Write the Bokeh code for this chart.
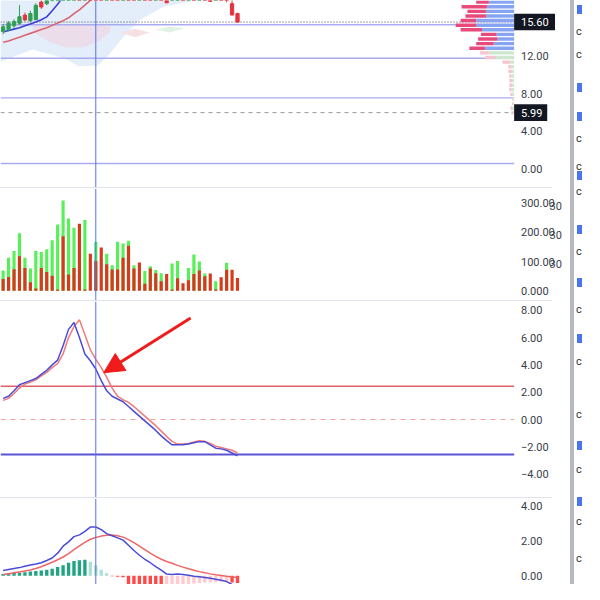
from bokeh.plotting import figure
from bokeh.models import Range1d, Span, Arrow, NormalHead, Div, ColumnDataSource
from bokeh.layouts import column, row
from bokeh.embed import file_html
from bokeh.resources import INLINE
from bokeh.core.properties import value

# ---------------- data ----------------
bars = list(range(44))

c_open = [14.6, 14.8, 15.2, 15.48, 16.34, 15.75, 15.85, 17.72, 17.55, 18.3, 19.2, 20.5, 22.4, 24.6, 26.0,
          25.1, 26.4, 24.8, 23.5, 22.0, 22.8, 21.6, 21.0, 21.8, 20.9, 20.3, 20.8, 19.9, 19.4, 19.9,
          18.8, 18.1, 18.6, 19.0, 18.7, 19.3, 19.0, 19.4, 18.9, 18.1, 18.5, 18.6, 17.55, 16.5]
c_close = [15.1, 15.48, 15.65, 16.17, 15.83, 16.5, 17.38, 17.2, 18.3, 19.2, 20.5, 22.4, 24.6, 26.0, 25.1,
           26.4, 24.8, 23.5, 22.0, 22.8, 21.6, 21.0, 21.8, 20.9, 20.3, 20.8, 19.9, 19.4, 19.9, 19.0,
           17.65, 18.6, 19.0, 18.7, 19.3, 19.0, 19.4, 18.9, 17.8, 18.5, 18.3, 18.2, 16.35, 15.6]
c_high = [15.4, 15.7, 15.9, 17.4, 16.6, 16.8, 17.6, 18.0, 18.6, 19.5, 20.8, 22.9, 25.0, 26.5, 26.4,
          26.9, 26.7, 25.0, 23.8, 23.1, 23.0, 21.9, 22.1, 22.0, 21.1, 21.0, 21.0, 20.1, 20.1, 20.1,
          19.1, 18.8, 19.2, 19.2, 19.5, 19.5, 19.6, 19.6, 19.0, 18.7, 18.6, 18.8, 18.1, 16.6]
c_low = [14.3, 14.6, 14.9, 15.3, 15.7, 15.6, 15.8, 17.0, 17.4, 17.8, 19.0, 20.3, 22.2, 24.3, 24.9,
         24.9, 24.6, 23.3, 21.8, 21.8, 21.4, 20.8, 20.8, 20.7, 20.1, 20.1, 19.7, 19.2, 19.2, 18.8,
         17.6, 18.0, 18.4, 18.5, 18.6, 18.9, 18.9, 18.6, 17.78, 18.0, 18.1, 17.7, 16.3, 15.55]

ma_fast = [14.55, 14.7, 14.85, 15.0, 15.2, 15.4, 15.6, 15.85, 16.15, 16.8, 17.5, 18.3, 19.2]
ma_slow = [13.45, 13.6, 13.8, 14.0, 14.2, 14.4, 14.6, 14.8, 15.0, 15.25, 15.5, 15.75, 16.05,
           16.5, 16.9, 17.4, 17.9, 18.4]

cloud_x = [-0.48, 5.4, 11.5, 13.8, 17.4, 19.2, 22.2, 25.0, 29.3, 35.2]
cloud_low = [11.4, 12.7, 11.7, 10.9, 11.0, 12.0, 14.1, 15.8, 17.2, 17.9]
cloud_high = [19.0] * 10
pink_x = [5.4, 8.4, 11.5, 14.5, 17.4, 19.7]
pink_high = [15.2, 15.3, 15.3, 15.3, 15.3, 15.1]
pink_low = [14.6, 13.5, 12.9, 12.9, 13.5, 14.6]
pink2_x = [21.5, 24.2, 26.9]
pink2_high = [14.5, 14.9, 14.5]
pink2_low = [14.5, 14.0, 14.5]
green_x = [28.0, 30.5, 33.0]
green_high = [14.8, 15.1, 15.0]
green_low = [14.8, 14.5, 14.9]

level_lines = [15.31, 11.76, 7.55, 0.59]
last_price = 15.60
low_mark = 5.99

vp_price = [17.72, 17.23, 16.74, 16.25, 15.76, 15.27, 14.78, 14.29, 13.80, 13.31, 12.82, 12.33, 11.84,
            11.35, 10.86, 10.37, 9.88, 9.39, 8.90, 8.41, 7.92, 7.43, 6.94, 6.45, 5.96]
vp_up = [26, 28, 29, 29, 39, 39, 33, 18, 17, 21, 30, 26, 19, 4, 3, 2, 3, 2, 2, 3, 2, 1, 1, 2, 1]
vp_down = [13, 26, 19, 21, 16, 21, 22, 16, 20, 18, 16, 9, 11, 8, 3, 4, 2, 3, 3, 2, 2, 1, 1, 2, 2]
VA_LOW = 12.6

vol_up = [69, 113, 136, 197, 113, 76, 136, 133, 142, 173, 227, 309, 247, 216, 0, 242, 0, 168, 0, 127,
          87, 168, 162, 171, 87, 0, 68, 84, 71, 60, 0, 93, 102, 0, 78, 124, 100, 59, 0, 33, 0, 96, 0, 0]
vol_down = [40, 47, 74, 118, 78, 29, 8, 78, 64, 51, 4, 187, 56, 78, 229, 4, 127, 102, 148, 91,
            73, 73, 113, 154, 76, 97, 24, 76, 60, 33, 57, 4, 43, 26, 36, 57, 69, 50, 59, 4, 46, 72, 72, 44]

osc_main = [1.55, 1.7, 2.1, 2.55, 2.7, 2.85, 3.0, 3.3, 3.6, 4.0, 4.35, 5.4, 6.6, 7.1, 6.0, 4.8, 4.3, 3.7,
            2.85, 2.1, 1.7, 1.5, 1.3, 0.95, 0.6, 0.25, -0.1, -0.45, -0.8, -1.2, -1.55, -1.85, -1.85,
            -1.85, -1.8, -1.7, -1.62, -1.62, -1.85, -2.1, -2.15, -2.25, -2.45, -2.65]
osc_signal = [1.4, 1.55, 1.9, 2.3, 2.6, 2.75, 2.9, 3.2, 3.45, 3.8, 4.1, 4.8, 6.0, 6.8, 7.3, 6.2, 5.1, 4.4,
              3.8, 3.1, 2.3, 1.7, 1.45, 1.25, 0.95, 0.6, 0.25, -0.1, -0.45, -0.85, -1.25, -1.6, -1.8,
              -1.8, -1.75, -1.65, -1.55, -1.6, -1.75, -1.95, -2.05, -2.15, -2.25, -2.45]
osc_upper = 2.43
osc_lower = -2.57

macd_line = [0.3, 0.36, 0.42, 0.47, 0.55, 0.62, 0.68, 0.75, 0.88, 1.02, 1.3, 1.7, 1.95, 2.25, 2.35, 2.55,
             2.8, 2.8, 2.65, 2.42, 2.3, 2.18, 2.05, 1.75, 1.45, 1.18, 0.95, 0.75, 0.53, 0.33, 0.1, 0.08,
             0.1, 0.08, 0.03, -0.02, -0.06, -0.1, -0.14, -0.2, -0.26, -0.33, -0.5, -0.6]
macd_signal = [0.08, 0.12, 0.17, 0.22, 0.28, 0.33, 0.42, 0.52, 0.65, 0.78, 0.92, 1.08, 1.28, 1.5, 1.72,
               1.92, 2.1, 2.2, 2.28, 2.33, 2.34, 2.3, 2.22, 2.08, 1.9, 1.7, 1.5, 1.3, 1.12, 0.95, 0.82,
               0.72, 0.6, 0.5, 0.4, 0.32, 0.24, 0.17, 0.11, 0.06, 0.02, -0.03, -0.07, -0.1]
macd_hist = [0.1, 0.15, 0.18, 0.18, 0.2, 0.25, 0.28, 0.3, 0.35, 0.4, 0.5, 0.6, 0.75, 0.85, 0.9, 0.92,
             0.8, 0.6, 0.35, 0.15, -0.03, -0.05, -0.08, -0.5, -0.6, -0.65, -0.7, -0.72, -0.74, -0.75,
             -0.6, -0.57, -0.54, -0.5, -0.47, -0.44, -0.41, -0.39, -0.37, -0.35, -0.34, -0.33, -0.38, -0.42]

price_ticks = [0, 4, 8, 12]
price_labels = ["0.00", "4.00", "8.00", "12.00"]
vol_ticks = [0, 100, 200, 300]
vol_labels = ["0.000", "100.00", "200.00", "300.00"]
osc_ticks = [-4, -2, 0, 2, 4, 6, 8]
osc_labels = ["\u22124.00", "\u22122.00", "0.00", "2.00", "4.00", "6.00", "8.00"]
macd_ticks = [0, 2, 4]
macd_labels = ["0.00", "2.00", "4.00"]

cursor_bar = 17
arrow_from = (34.4, 7.43)
arrow_to = (18.45, 3.43)

# ---------------- layout helpers ----------------
S = 584 / 600.0                 # reference px -> page px
BAR_PX = 5.6                    # reference px per bar
X_RANGE = (-0.482, 104.09)      # full panel width (plot + price scale)
PLOT_END = 93.75                # right edge of the drawing area (bar units)
FONT = "Roboto"
TXT = "#3b3e47"


def panel(h, yr, ticks, labels):
    p = figure(frame_width=570, frame_height=h, x_range=Range1d(*X_RANGE), y_range=Range1d(*yr),
               output_backend="svg", toolbar_location=None, x_axis_location=None,
               y_axis_location=None, min_border=0)
    p.xgrid.visible = False
    p.ygrid.visible = False
    p.outline_line_color = None
    p.background_fill_color = "white"
    p.border_fill_color = "white"
    p.text(x=[PLOT_END] * len(ticks), y=ticks, text=labels, x_offset=7 * S, text_baseline="middle",
           text_align="left", text_font=value(FONT), text_font_size="11px", text_color=TXT)
    p.add_layout(Span(location=cursor_bar, dimension="height", line_color="#5470f0", line_width=1))
    return p


def hline(p, y, **kw):
    p.segment(x0=X_RANGE[0], x1=PLOT_END, y0=y, y1=y, **kw)


def sep():
    return Div(width=552, height=1, margin=0, styles={"background-color": "#e0e3eb"})


def price_tag(p, val, txt, w_px, px_per_unit):
    half = 8.5 / px_per_unit
    p.quad(left=PLOT_END, right=PLOT_END + w_px / BAR_PX, bottom=val - half, top=val + half,
           fill_color="#131722", line_color=None)
    p.text(x=[PLOT_END], y=[val], text=[txt], x_offset=7 * S, text_baseline="middle", text_align="left",
           text_font=value(FONT), text_font_size="11px", text_color="white")


# ---------------- price panel ----------------
PRICE_PX = 9.67
p1 = panel(187, (-1.96, 17.89), price_ticks, price_labels)
p1.varea(x=cloud_x, y1=cloud_low, y2=cloud_high, fill_color="#e4eefb")
p1.varea(x=pink_x, y1=pink_low, y2=pink_high, fill_color="#ebdde9")
p1.varea(x=pink2_x, y1=pink2_low, y2=pink2_high, fill_color="#f7e0e3")
p1.varea(x=green_x, y1=green_low, y2=green_high, fill_color="#e1f1e4")

for lv in level_lines:
    hline(p1, lv, line_color="#a9abf0", line_width=1.4)
hline(p1, low_mark, line_color="#9a9a9a", line_width=1, line_dash="4 4")
hline(p1, last_price, line_color="#444444", line_width=1, line_dash="1 2")

vp_src = ColumnDataSource(dict(
    y=vp_price, up=vp_up, tot=[u + d for u, d in zip(vp_up, vp_down)],
    upc=["#86a4f2" if pr >= VA_LOW else "#cfe6cf" for pr in vp_price],
    dnc=["#e84a7c" if pr >= VA_LOW else "#f5c6cf" for pr in vp_price]))
p1.extra_x_ranges = {"vp": Range1d(start=527.7, end=527.7 - 585.6)}
p1.hbar(y="y", left=0, right="up", height=0.36, fill_color="upc", line_color=None, source=vp_src,
        x_range_name="vp")
p1.hbar(y="y", left="up", right="tot", height=0.36, fill_color="dnc", line_color=None, source=vp_src,
        x_range_name="vp")

p1.line(list(range(len(ma_slow))), ma_slow, line_color="#d9656f", line_width=1.6)
p1.line(list(range(len(ma_fast))), ma_fast, line_color="#3d3ddb", line_width=1.6)

ccol = ["#2f9e55" if c >= o else "#e5323f" for o, c in zip(c_open, c_close)]
csrc = ColumnDataSource(dict(x=bars, o=c_open, c=c_close, h=c_high, l=c_low, col=ccol))
p1.segment(x0="x", y0="l", x1="x", y1="h", line_color="col", line_width=1, source=csrc)
p1.vbar(x="x", bottom="o", top="c", width=0.6, fill_color="col", line_color="col", source=csrc)

price_tag(p1, last_price, "15.60", 42, PRICE_PX)
price_tag(p1, low_mark, "5.99", 34, PRICE_PX)

# ---------------- volume panel ----------------
VOL_PX = 0.3
p2 = panel(112, (-33.3, 350), vol_ticks, vol_labels)
p2.vbar(x=bars, top=vol_up, width=0.58, fill_color="#58f058", line_color=None)
p2.vbar(x=bars, top=vol_down, width=0.58, fill_color="#d63a1c", line_color=None)
p2.text(x=[PLOT_END] * 3, y=[t - 3 / VOL_PX for t in vol_ticks[1:]], text=["30"] * 3,
        x_offset=(564 - 527.7) * S, text_baseline="middle", text_align="left",
        text_font=value(FONT), text_font_size="11px", text_color=TXT)

# ---------------- oscillator panel ----------------
p3 = panel(196, (-5.71, 8.64), osc_ticks, osc_labels)
hline(p3, 0, line_color="#f4a6a6", line_width=1, line_dash="5 5")
hline(p3, osc_upper, line_color="#e0606a", line_width=1.5)
hline(p3, osc_lower, line_color="#5b55d3", line_width=2)
p3.line(bars, osc_signal, line_color="#f07a7a", line_width=1.5)
p3.line(bars, osc_main, line_color="#4b4bd9", line_width=1.5)
p3.add_layout(Arrow(end=NormalHead(size=20, fill_color="#f01c1c", line_color="#f01c1c"),
                    x_start=arrow_from[0], y_start=arrow_from[1], x_end=arrow_to[0], y_end=arrow_to[1],
                    line_color="#f01c1c", line_width=3))

# ---------------- MACD panel ----------------
p4 = panel(86, (-0.5, 4.44), macd_ticks, macd_labels)
hcol = []
for i, h in enumerate(macd_hist):
    prev = macd_hist[i - 1] if i > 0 else 0
    if h >= 0:
        hcol.append("#22a383" if h >= prev else "#ace0d4")
    else:
        hcol.append("#ff4848" if h <= prev else "#ffcbd0")
p4.vbar(x=bars, top=macd_hist, width=0.62, fill_color=hcol, line_color=None)
p4.line(bars, macd_signal, line_color="#f06565", line_width=1.5)
p4.line(bars, macd_line, line_color="#4b4bd9", line_width=1.5)

# ---------------- right UI strip ----------------
blue_marks = [10, 90, 120, 180, 236, 290, 348, 458, 515]
char_marks = [33, 57, 143, 172, 198, 259, 319, 372, 427, 483, 537, 575]
inner = '<div style="position:absolute;left:0;top:0;width:4px;height:584px;background:#b5b8bf"></div>'
for y in blue_marks:
    inner += ('<div style="position:absolute;left:7px;top:%dpx;width:5px;height:9px;background:#4a74f0">'
              '</div>' % int(y * S - 4))
for y in char_marks:
    inner += ('<div style="position:absolute;left:6px;top:%dpx;font:11px Roboto;color:#333">c</div>'
              % int(y * S - 7))
strip = Div(width=14, height=584, margin=0,
            text='<div style="position:relative;width:14px;height:584px;overflow:hidden">' + inner + '</div>')

left = column(p1, sep(), p2, sep(), p3, sep(), p4, spacing=0)
layout = row(left, strip, spacing=0)

open("out.html", "w").write(file_html(layout, INLINE))
